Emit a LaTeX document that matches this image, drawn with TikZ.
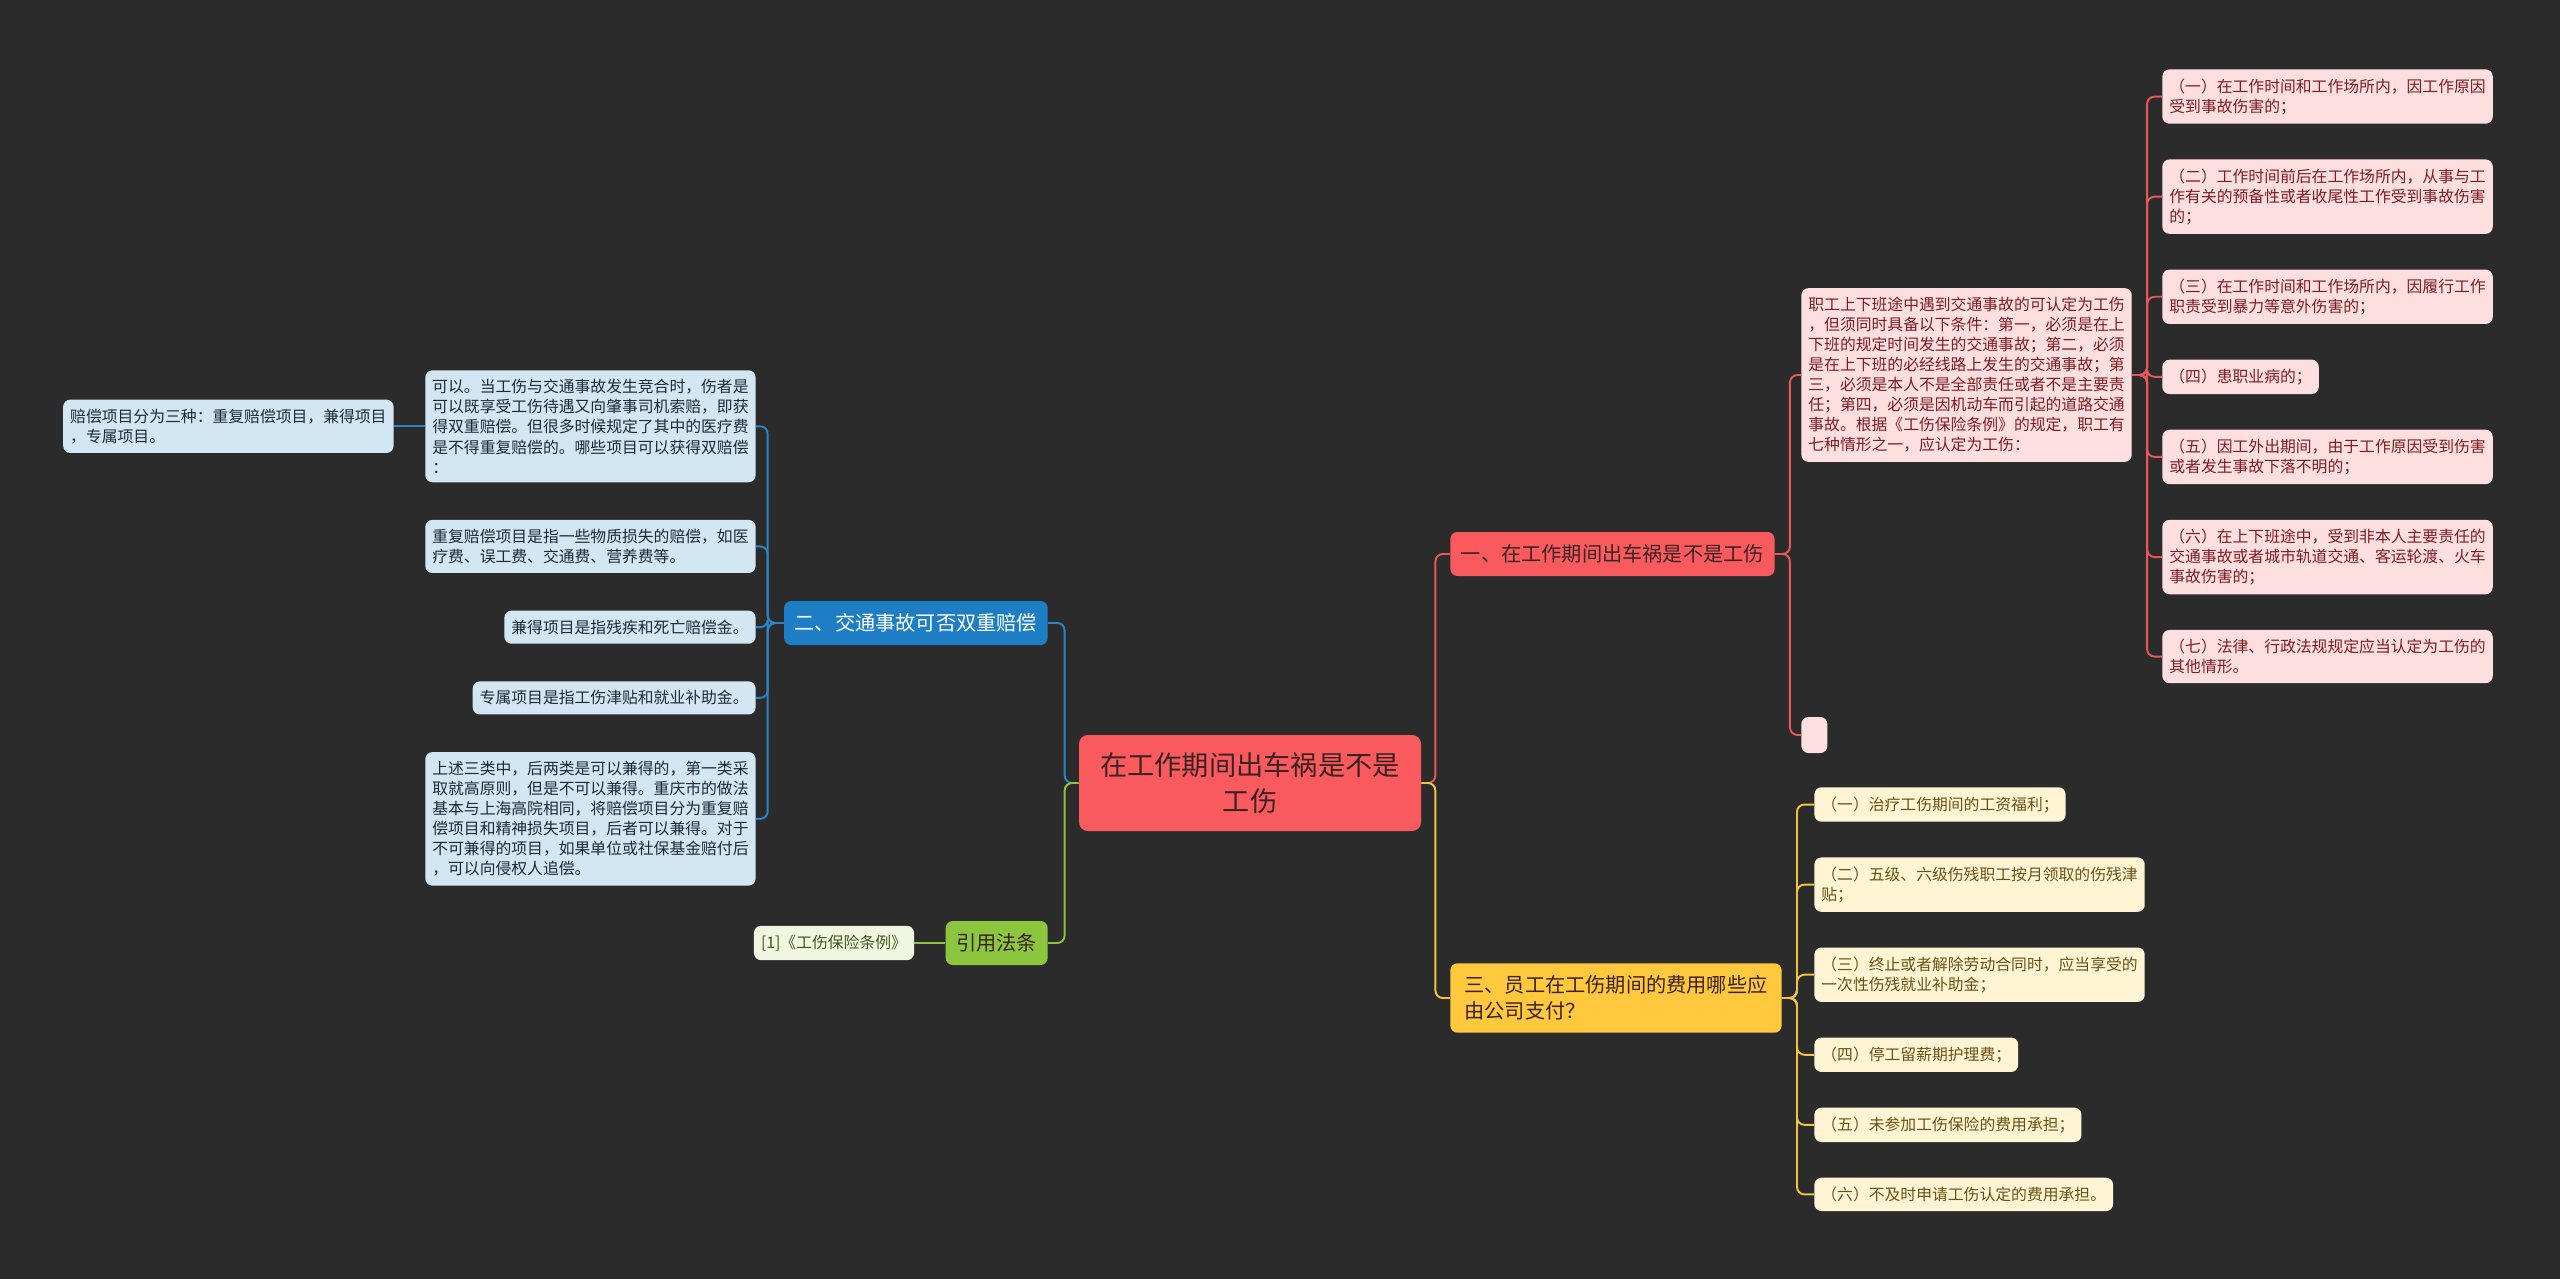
\documentclass[tikz,border=0pt]{standalone}
\usepackage{fontspec}
\setmainfont{Noto Sans CJK SC}
\usetikzlibrary{positioning}
\definecolor{bgDark}{HTML}{2B2B2B}
\definecolor{rootRed}{HTML}{F95A5E}
\definecolor{redLine}{HTML}{E9575B}
\definecolor{redLeaf}{HTML}{FDDFE0}
\definecolor{redText}{HTML}{7D1D22}
\definecolor{yelMain}{HTML}{FFC83D}
\definecolor{yelLine}{HTML}{F2C343}
\definecolor{yelLeaf}{HTML}{FFF4D4}
\definecolor{yelText}{HTML}{6B5214}
\definecolor{bluMain}{HTML}{1D7DC5}
\definecolor{bluLine}{HTML}{2A86C8}
\definecolor{bluLeaf}{HTML}{D2E6F4}
\definecolor{bluText}{HTML}{1E2A36}
\definecolor{grnMain}{HTML}{8CC63E}
\definecolor{grnLeaf}{HTML}{F1F6E2}
\definecolor{grnText}{HTML}{3D5A18}
\definecolor{darkText}{HTML}{3A2222}

\begin{document}
\begin{tikzpicture}[
    node distance=0.7cm,
    topic/.style={rounded corners=4pt,inner xsep=6pt,align=left,
      font=\fontsize{11.5pt}{14.8pt}\selectfont,minimum height=0.88cm},
    leaf/.style={rounded corners=4pt,inner xsep=4pt,inner ysep=5.2pt,align=left,
      font=\fontsize{9pt}{11.4pt}\selectfont},
    redleaf/.style={leaf,fill=redLeaf,text=redText},
    yelleaf/.style={leaf,fill=yelLeaf,text=yelText},
    bluleaf/.style={leaf,fill=bluLeaf,text=bluText},
    grnleaf/.style={leaf,fill=grnLeaf,text=grnText},
    link/.style={line width=1.1pt,rounded corners=0.15cm}]
    % background and page size
    \fill[bgDark] (0,0) rectangle (51.2,-25.58);
    \useasboundingbox (0,0) rectangle (51.2,-25.58);

    \node[fill=rootRed,text=darkText,rounded corners=5pt,minimum width=6.84cm,
      minimum height=1.92cm,align=center,
      font=\fontsize{15.5pt}{20.5pt}\selectfont] (accident) at (25,-15.66)
      {在工作期间出车祸是不是\\工伤};

    % main topics
    \node[topic,fill=rootRed,text=darkText,anchor=west] (injury) at (29.0,-11.08)
      {一、在工作期间出车祸是不是工伤};
    \node[topic,fill=yelMain,text=darkText,anchor=west,inner xsep=8pt,inner ysep=7pt]
      (costs) at (29.0,-19.96) {三、员工在工伤期间的费用哪些应\\由公司支付？};
    \node[topic,fill=bluMain,text=white,anchor=east] (double) at (20.96,-12.46)
      {二、交通事故可否双重赔偿};
    \node[topic,fill=grnMain,text=darkText,anchor=east] (law) at (20.96,-18.86)
      {引用法条};

    % red branch
    \node[redleaf,anchor=west] (cond) at (36.02,-7.5)
      {职工上下班途中遇到交通事故的可认定为工伤\\，但须同时具备以下条件：第一，必须是在上\\下班的规定时间发生的交通事故；第二，必须\\是在上下班的必经线路上发生的交通事故；第\\三，必须是本人不是全部责任或者不是主要责\\任；第四，必须是因机动车而引起的道路交通\\事故。根据《工伤保险条例》的规定，职工有\\七种情形之一，应认定为工伤：};
    \node[redleaf,minimum width=0.52cm,minimum height=0.72cm,anchor=west] (blank)
      at (36.02,-14.7) {};
    \node[redleaf,anchor=north west] (rl1) at (43.24,-1.38)
      {（一）在工作时间和工作场所内，因工作原因\\受到事故伤害的；};
    \node[redleaf,below=of rl1.south west,anchor=north west] (rl2)
      {（二）工作时间前后在工作场所内，从事与工\\作有关的预备性或者收尾性工作受到事故伤害\\的；};
    \node[redleaf,below=of rl2.south west,anchor=north west] (rl3)
      {（三）在工作时间和工作场所内，因履行工作\\职责受到暴力等意外伤害的；};
    \node[redleaf,below=of rl3.south west,anchor=north west] (rl4)
      {（四）患职业病的；};
    \node[redleaf,below=of rl4.south west,anchor=north west] (rl5)
      {（五）因工外出期间，由于工作原因受到伤害\\或者发生事故下落不明的；};
    \node[redleaf,below=of rl5.south west,anchor=north west] (rl6)
      {（六）在上下班途中，受到非本人主要责任的\\交通事故或者城市轨道交通、客运轮渡、火车\\事故伤害的；};
    \node[redleaf,below=of rl6.south west,anchor=north west] (rl7)
      {（七）法律、行政法规规定应当认定为工伤的\\其他情形。};

    % yellow branch
    \node[yelleaf,anchor=north west] (yl1) at (36.28,-15.74)
      {（一）治疗工伤期间的工资福利；};
    \node[yelleaf,below=of yl1.south west,anchor=north west] (yl2)
      {（二）五级、六级伤残职工按月领取的伤残津\\贴；};
    \node[yelleaf,below=of yl2.south west,anchor=north west] (yl3)
      {（三）终止或者解除劳动合同时，应当享受的\\一次性伤残就业补助金；};
    \node[yelleaf,below=of yl3.south west,anchor=north west] (yl4)
      {（四）停工留薪期护理费；};
    \node[yelleaf,below=of yl4.south west,anchor=north west] (yl5)
      {（五）未参加工伤保险的费用承担；};
    \node[yelleaf,below=of yl5.south west,anchor=north west] (yl6)
      {（六）不及时申请工伤认定的费用承担。};

    % blue branch
    \node[bluleaf,anchor=north east] (bl1) at (15.12,-7.4)
      {可以。当工伤与交通事故发生竞合时，伤者是\\可以既享受工伤待遇又向肇事司机索赔，即获\\得双重赔偿。但很多时候规定了其中的医疗费\\是不得重复赔偿的。哪些项目可以获得双赔偿\\：};
    \node[bluleaf,below=0.74cm of bl1.south east,anchor=north east] (bl2)
      {重复赔偿项目是指一些物质损失的赔偿，如医\\疗费、误工费、交通费、营养费等。};
    \node[bluleaf,below=0.74cm of bl2.south east,anchor=north east] (bl3)
      {兼得项目是指残疾和死亡赔偿金。};
    \node[bluleaf,below=0.74cm of bl3.south east,anchor=north east] (bl4)
      {专属项目是指工伤津贴和就业补助金。};
    \node[bluleaf,below=0.74cm of bl4.south east,anchor=north east] (bl5)
      {上述三类中，后两类是可以兼得的，第一类采\\取就高原则，但是不可以兼得。重庆市的做法\\基本与上海高院相同，将赔偿项目分为重复赔\\偿项目和精神损失项目，后者可以兼得。对于\\不可兼得的项目，如果单位或社保基金赔付后\\，可以向侵权人追偿。};
    \node[bluleaf,left=0.62cm of bl1] (kinds)
      {赔偿项目分为三种：重复赔偿项目，兼得项目\\，专属项目。};

    % green branch
    \node[grnleaf,left=0.62cm of law] (statute) {[1]《工伤保险条例》};

    % connectors
    \draw[link,redLine] (accident.east) -- ++(0.28,0) |- (injury.west);
    \draw[link,yelLine] (accident.east) -- ++(0.28,0) |- (costs.west);
    \draw[link,bluLine] (accident.west) -- ++(-0.28,0) |- (double.east);
    \draw[link,grnMain] (accident.west) -- ++(-0.28,0) |- (law.east);
    \draw[link,redLine] (injury.east) -- ++(0.3,0) |- (cond.west);
    \draw[link,redLine] (injury.east) -- ++(0.3,0) |- (blank.west);
    \foreach \i in {1,...,7}
      \draw[link,redLine] (cond.east) -- ++(0.3,0) |- (rl\i.west);
    \foreach \i in {1,...,6}
      \draw[link,yelLine] (costs.east) -- ++(0.3,0) |- (yl\i.west);
    \foreach \i in {1,...,5}
      \draw[link,bluLine] (double.west) -- ++(-0.32,0) |- (bl\i.east);
    \draw[link,bluLine] (bl1.west) -- (kinds.east);
    \draw[link,grnMain] (law.west) -- (statute.east);
  \end{tikzpicture}
\end{document}
